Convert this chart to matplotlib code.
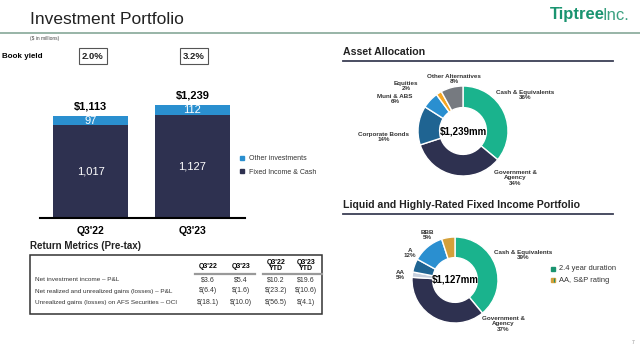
import matplotlib.pyplot as plt
from matplotlib.patches import Rectangle, Patch

plt.rcParams['font.family'] = ['Liberation Sans', 'DejaVu Sans']

# bar chart data ($ in millions)
quarters = ["Q3'22", "Q3'23"]
fixed_income = [1017, 1127]
other_inv = [97, 112]
totals = ["$1,113", "$1,239"]
book_yield = ["2.0%", "3.2%"]

# return metrics table
table_cols = ["Q3'22", "Q3'23", "Q3'22\nYTD", "Q3'23\nYTD"]
table_rows = ["Net investment income \u2013 P&L",
              "Net realized and unrealized gains (losses) \u2013 P&L",
              "Unrealized gains (losses) on AFS Securities \u2013 OCI"]
table_vals = [["$3.6", "$5.4", "$10.2", "$19.6"],
              ["$(6.4)", "$(1.6)", "$(23.2)", "$(10.6)"],
              ["$(18.1)", "$(10.0)", "$(56.5)", "$(4.1)"]]

# asset allocation donut
alloc_names = ["Cash & Equivalents", "Government &\nAgency", "Corporate Bonds",
               "Muni & ABS", "Equities", "Other Alternatives"]
alloc_pct = [36, 34, 14, 6, 2, 8]
alloc_colors = ["#1ab38d", "#2e3150", "#1f6492", "#2a8fd0", "#f5a623", "#767a80"]

# fixed income donut
fi_names = ["Cash & Equivalents", "Government &\nAgency", "AAA", "AA", "A", "BBB"]
fi_pct = [39, 37, 2, 5, 12, 5]
fi_colors = ["#1ab38d", "#2e3150", "#c5cfdd", "#1f6492", "#2a8fd0", "#d4a03a"]

W, H = 640, 348
fig = plt.figure(figsize=(6.4, 3.48), dpi=100)


def px(x, y, w, h):
    return fig.add_axes([x / W, 1 - (y + h) / H, w / W, h / H])


# ---- stacked bars ----
ax = px(40, 90, 205, 128)
xs = range(len(quarters))
ax.bar(xs, fixed_income, width=0.735, color="#2e3150")
ax.bar(xs, other_inv, width=0.735, bottom=fixed_income, color="#2a8fcf")
for i in xs:
    ax.text(i, fixed_income[i] / 2, f"{fixed_income[i]:,}", color="white",
            ha="center", va="center", fontsize=8)
    ax.text(i, fixed_income[i] + other_inv[i] / 2, f"{other_inv[i]:,}", color="white",
            ha="center", va="center", fontsize=8)
    ax.annotate(totals[i], (i, fixed_income[i] + other_inv[i]), xytext=(0, 3),
                textcoords="offset points", ha="center", va="bottom",
                fontsize=8, fontweight="bold")
ax.set_xlim(-0.495, 1.515)
ax.set_ylim(0, 1400)
ax.set_xticks(list(xs))
ax.set_xticklabels(quarters, fontsize=7.5, fontweight="bold")
ax.set_yticks([])
ax.tick_params(axis="x", length=0, pad=6)
for s in ["top", "left", "right"]:
    ax.spines[s].set_visible(False)
ax.spines["bottom"].set_linewidth(1.5)
ax.spines["bottom"].set_color("black")
handles = [Patch(color="#2a8fcf"), Patch(color="#2e3150")]
fig.legend(handles, ["Other investments", "Fixed Income & Cash"],
           loc="upper left", bbox_to_anchor=(234 / W, 1 - 149 / H), frameon=False,
           fontsize=5, handlelength=0.6, handleheight=0.6, handletextpad=0.6,
           labelspacing=0.9, labelcolor="#333333")


# ---- donuts ----
def donut(cx, cy, r, vals, colors, center_text):
    a = px(cx - 60, cy - 60, 120, 120)
    a.pie(vals, colors=colors, startangle=90, counterclock=False,
          wedgeprops=dict(width=0.48, edgecolor="white", linewidth=1))
    lim = 60 / r
    a.set_xlim(-lim, lim)
    a.set_ylim(-lim, lim)
    a.text(0, 0, center_text, ha="center", va="center", fontsize=7, fontweight="bold")
    return a


donut(463, 131, 45, alloc_pct, alloc_colors, "$1,239mm")
donut(455, 280, 43, fi_pct, fi_colors, "$1,127mm")

# ---- overlay for text/lines ----
ov = px(0, 0, W, H)
ov.set_xlim(0, W)
ov.set_ylim(H, 0)
ov.axis("off")

ov.text(30, 20, "Investment Portfolio", fontsize=12.5, va="center", color="#222222")
ov.text(550, 15, "Tiptree", fontsize=12, va="center", ha="left", color="#1a9470",
        fontweight="semibold")
ov.text(603, 15, "Inc.", fontsize=12, va="center", ha="left", color="#3aa080")
ov.plot([0, W], [33, 33], color="#86a898", lw=1.2)
ov.text(30, 38.5, "($ in millions)", fontsize=3.5, va="center", color="#444444")
ov.text(632, 342, "7", fontsize=3.5, va="center", color="#888888")

ov.text(2, 57, "Book yield", fontsize=5.8, fontweight="bold", va="center")
for bx, lbl in zip([93, 194], book_yield):
    ov.add_patch(Rectangle((bx - 14, 48), 28, 16, fill=False, ec="#555555", lw=0.8))
    ov.text(bx, 56.5, lbl, fontsize=6.8, ha="center", va="center", color="#222222",
            fontweight="semibold")

# return metrics table
ov.text(30, 246, "Return Metrics (Pre-tax)", fontsize=7, fontweight="bold",
        va="center", color="#222222")
ov.add_patch(Rectangle((30, 255), 292, 59, fill=False, ec="#333333", lw=1.1))
col_x = [208, 241, 276, 306]
for cx, c in zip(col_x, table_cols):
    if "\n" in c:
        top, bot = c.split("\n")
        ov.text(cx, 262, top, fontsize=5, fontweight="bold", ha="center", va="center")
        ov.text(cx, 268.5, bot, fontsize=5, fontweight="bold", ha="center", va="center")
    else:
        ov.text(cx, 266.5, c, fontsize=5, fontweight="bold", ha="center", va="center")
ov.plot([195, 255], [273.5, 273.5], color="#999999", lw=1.6)
ov.plot([263, 322], [273.5, 273.5], color="#999999", lw=1.6)
row_y = [279.5, 291, 302.5]
for ry, name, vals in zip(row_y, table_rows, table_vals):
    ov.text(35, ry, name, fontsize=4.6, va="center", color="#333333")
    for cx, v in zip(col_x, vals):
        ov.text(cx, ry, v, fontsize=5, ha="center", va="center", color="#333333")

# section headers
for y, title in [(52, "Asset Allocation"),
                 (205, "Liquid and Highly-Rated Fixed Income Portfolio")]:
    ov.text(343, y, title, fontsize=7.6, fontweight="bold", va="center", color="#222222")
    ov.plot([343, 613], [y + 9, y + 9], color="#3c3f55", lw=1.3)

# donut labels
alloc_pos = [(525, 95), (515, 178), (384, 137), (395, 99), (406, 86), (454, 79)]
for (lx, ly), name, p in zip(alloc_pos, alloc_names, alloc_pct):
    ov.text(lx, ly, f"{name}\n{p}%", fontsize=4.5, fontweight="bold", ha="center",
            va="center", linespacing=1.1, color="#333333")
fi_pos = [(523, 255), (503, 324), None, (400, 275), (410, 253), (427, 235)]
for pos, name, p in zip(fi_pos, fi_names, fi_pct):
    if pos is None:
        continue
    ov.text(pos[0], pos[1], f"{name}\n{p}%", fontsize=4.5, fontweight="bold",
            ha="center", va="center", linespacing=1.1, color="#333333")

ov.plot([553], [269], marker="s", ms=2.6, color="#1a9470", ls="none")
ov.text(559, 269, "2.4 year duration", fontsize=5.4, va="center", color="#333333")
ov.plot([552.6], [280], marker="s", ms=2.6, color="#d4a03a", ls="none")
ov.plot([554], [280], marker="|", ms=3.5, color="#1a9470", ls="none", mew=0.8)
ov.text(559, 280, "AA, S&P rating", fontsize=5.4, va="center", color="#333333")

fig.savefig("out.png", dpi=100)
